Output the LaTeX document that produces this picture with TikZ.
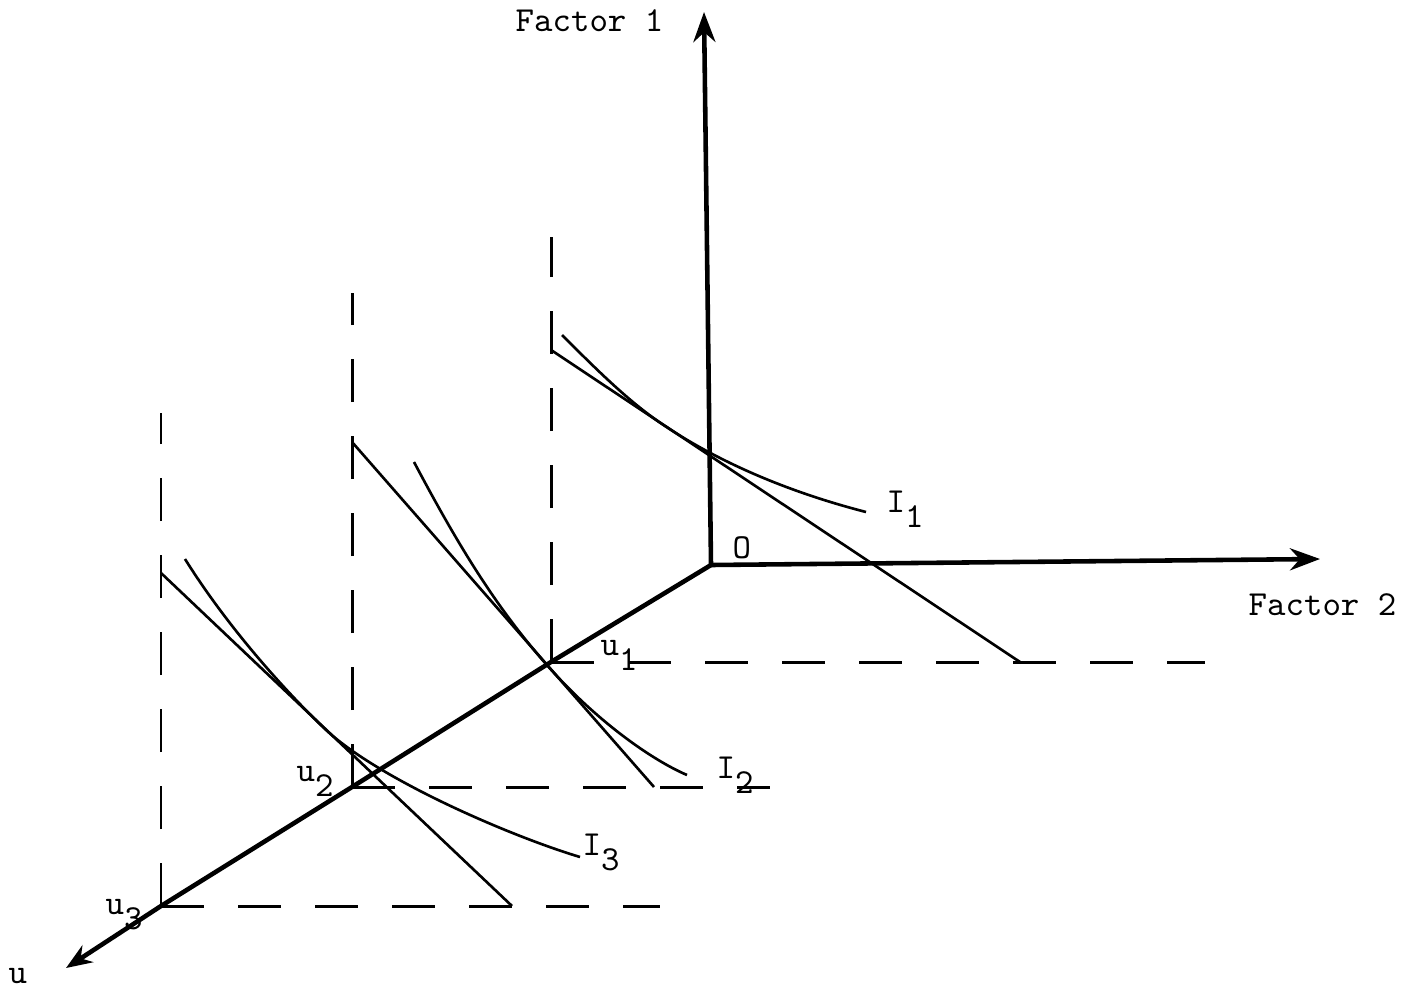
\documentclass[tikz,border=0pt]{standalone}
\usepackage{tikz}
\usetikzlibrary{arrows.meta}

\newcommand{\lowsub}[1]{\raisebox{-4.3pt}{#1}}

\begin{document}
\begin{tikzpicture}[
    axis/.style={line width=1.3pt, -{Stealth[length=3mm, width=2.2mm]}},
    uaxis/.style={line width=1.3pt},
    budget/.style={line width=0.75pt},
    isoq/.style={line width=0.75pt},
    guide/.style={line width=0.85pt, dash pattern=on 0.43cm off 0.34cm},
    lbl/.style={font=\ttfamily, inner sep=0pt, anchor=base west}]
    \useasboundingbox (0,0) rectangle (14.21,9.98);
    % axes
    \coordinate (O) at (7.11,4.33);
    \coordinate (f1) at (7.04,9.86);
    \coordinate (f2) at (13.20,4.39);
    \coordinate (utip) at (0.66,0.30);
    \coordinate (u1) at (5.51,3.36);
    \coordinate (u2) at (3.52,2.11);
    \coordinate (u3) at (1.61,0.92);
    \draw[axis] (O) -- (f1);
    \draw[axis] (O) -- (f2);
    \draw[uaxis, -{Stealth[length=2.6mm, width=2mm]}] (O) -- (u1) -- (u2) -- (u3) -- (utip);
    % dashed guides
    \coordinate (v1) at (5.51,7.61);
    \coordinate (v2) at (3.52,7.05);
    \coordinate (v3) at (1.61,5.85);
    \coordinate (h1) at (12.05,3.36);
    \coordinate (h2) at (7.70,2.11);
    \coordinate (h3) at (6.60,0.92);
    \draw[guide] (u1) -- (v1);
    \draw[guide] (u2) -- (v2);
    \draw[guide] (u3) -- (v3);
    \draw[guide] (u1) -- (h1);
    \draw[guide] (u2) -- (h2);
    \draw[guide] (u3) -- (h3);
    % budget lines
    \coordinate (a1) at (5.51,6.48);
    \coordinate (b1) at (10.20,3.36);
    \coordinate (a2) at (3.52,5.56);
    \coordinate (b2) at (6.54,2.11);
    \coordinate (a3) at (1.61,4.25);
    \coordinate (b3) at (5.12,0.92);
    \draw[budget] (a1) -- (b1);
    \draw[budget] (a2) -- (b2);
    \draw[budget] (a3) -- (b3);
    % isoquants
    \coordinate (t1) at (6.65,5.72);
    \coordinate (t2) at (5.46,3.34);
    \coordinate (t3) at (3.25,2.69);
    \draw[isoq] (5.62,6.63) .. controls (5.97,6.28) and (6.30,5.95) .. (t1)
        .. controls (7.25,5.32) and (7.96,5.04) .. (8.66,4.86);
    \draw[isoq] (4.14,5.36) .. controls (4.59,4.51) and (4.96,3.91) .. (t2)
        .. controls (5.96,2.77) and (6.52,2.38) .. (6.87,2.23);
    \draw[isoq] (1.85,4.39) .. controls (2.25,3.75) and (2.80,3.12) .. (t3)
        .. controls (3.78,2.19) and (5.10,1.62) .. (5.80,1.41);
    % labels
    \node[lbl] (lf1) at (5.15,9.66) {Factor 1};
    \node[lbl] (lf2) at (12.48,3.83) {Factor 2};
    \node[lbl] (lo) at (7.32,4.40) {O};
    \node[lbl] (lu) at (0.08,0.15) {u};
    \node[lbl] (lu1) at (6.00,3.43) {u\lowsub{1}};
    \node[lbl] (lu2) at (2.96,2.17) {u\lowsub{2}};
    \node[lbl] (lu3) at (1.05,0.84) {u\lowsub{3}};
    \node[lbl] (li1) at (8.86,4.86) {I\lowsub{1}};
    \node[lbl] (li2) at (7.16,2.20) {I\lowsub{2}};
    \node[lbl] (li3) at (5.82,1.43) {I\lowsub{3}};
\end{tikzpicture}
\end{document}
